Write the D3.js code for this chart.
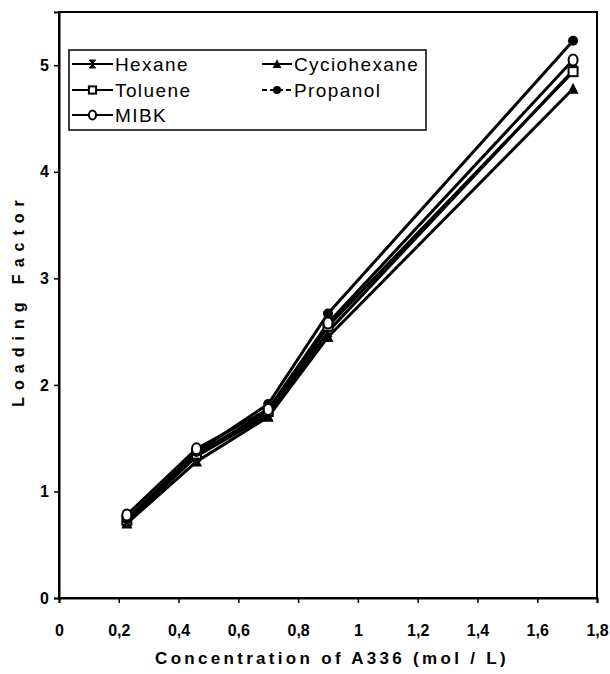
<!DOCTYPE html>
<html><head><meta charset="utf-8">
<script src="https://cdn.jsdelivr.net/npm/d3@7"></script>
<style>body{margin:0;background:#fff}svg{display:block}</style>
</head><body>
<script>
const xValues = [0.227, 0.46, 0.70, 0.90, 1.72];
const hexane = [0.72, 1.33, 1.72, 2.50, 4.95];
const cyclohexane = [0.70, 1.28, 1.70, 2.45, 4.78];
const toluene = [0.73, 1.35, 1.75, 2.55, 4.94];
const propanol = [0.74, 1.37, 1.82, 2.67, 5.23];
const mibk = [0.78, 1.40, 1.77, 2.58, 5.05];
const seriesNames = ["Hexane", "Cyciohexane", "Toluene", "Propanol", "MIBK"];
const seriesMarkers = ["bowtie", "triangle", "square", "dot", "circle"];
const xTicks = [0, 0.2, 0.4, 0.6, 0.8, 1, 1.2, 1.4, 1.6, 1.8];
const yTicks = [0, 1, 2, 3, 4, 5];

const W = 610, H = 674;
const m = {l: 59, r: 13, t: 12, b: 76};
const svg = d3.select("body").append("svg").attr("width", W).attr("height", H);
const x = d3.scaleLinear().domain([0, 1.8]).range([m.l, W - m.r]);
const y = d3.scaleLinear().domain([0, 5.5]).range([H - m.b, m.t]);

const fmt = d => String(d).replace(".", ",");
const FONT = "Liberation Sans, Arial, sans-serif";

// frame
svg.append("rect").attr("x", x(0)).attr("y", y(5.5)).attr("width", x(1.8) - x(0)).attr("height", y(0) - y(5.5))
  .attr("fill", "none").attr("stroke", "#000").attr("stroke-width", 2);

const gx = svg.append("g").attr("transform", `translate(0,${y(0)})`)
  .call(d3.axisBottom(x).tickValues(xTicks).tickSize(5).tickPadding(22).tickFormat(fmt));
const gy = svg.append("g").attr("transform", `translate(${x(0)},0)`)
  .call(d3.axisLeft(y).tickValues(yTicks).tickSize(5).tickPadding(5).tickFormat(fmt));
[gx, gy].forEach(g => {
  g.select(".domain").attr("stroke-width", 2);
  g.selectAll(".tick line").attr("stroke-width", 1.5);
  g.selectAll("text").attr("font-family", FONT).attr("font-weight", "bold")
    .attr("font-size", 16).attr("fill", "#000");
});

const data = [hexane, cyclohexane, toluene, propanol, mibk];
const line = d3.line().x((d, i) => x(xValues[i])).y(d => y(d));
data.forEach(vals => {
  svg.append("path").datum(vals).attr("d", line).attr("fill", "none")
    .attr("stroke", "#000").attr("stroke-width", 3).attr("stroke-linejoin", "round");
});

function marker(g, type, cx, cy, s) {
  s = s || 1;
  if (type === "bowtie") {
    g.append("path").attr("d", `M${cx-4*s},${cy-5*s}L${cx+4*s},${cy-5*s}L${cx},${cy}L${cx+4*s},${cy+5*s}L${cx-4*s},${cy+5*s}L${cx},${cy}Z`)
      .attr("fill", "#000").attr("stroke", "#000").attr("stroke-width", 1);
  } else if (type === "triangle") {
    g.append("path").attr("d", `M${cx},${cy-6*s}L${cx+5.5*s},${cy+5*s}L${cx-5.5*s},${cy+5*s}Z`).attr("fill", "#000");
  } else if (type === "square") {
    g.append("rect").attr("x", cx - 4.5*s).attr("y", cy - 4.5*s).attr("width", 9*s).attr("height", 9*s)
      .attr("fill", "#fff").attr("stroke", "#000").attr("stroke-width", 2);
  } else if (type === "dot") {
    g.append("circle").attr("cx", cx).attr("cy", cy).attr("r", 5*s).attr("fill", "#000");
  } else if (type === "circle") {
    g.append("ellipse").attr("cx", cx).attr("cy", cy).attr("rx", 4.5*s).attr("ry", 5.5*s)
      .attr("fill", "#fff").attr("stroke", "#000").attr("stroke-width", 2);
  }
}
data.forEach((vals, k) => {
  const g = svg.append("g");
  vals.forEach((v, i) => marker(g, seriesMarkers[k], x(xValues[i]), y(v)));
});

// legend
const lg = svg.append("g");
lg.append("rect").attr("x", 69).attr("y", 50).attr("width", 357).attr("height", 80)
  .attr("fill", "#fff").attr("stroke", "#000").attr("stroke-width", 1.5);
const legPos = [[72, 64, 41], [262, 64, 30], [72, 90, 41], [262, 90, 30], [72, 115, 41]];
seriesNames.forEach((n, k) => {
  const [lx, ly, len] = legPos[k];
  lg.append("line").attr("x1", lx).attr("x2", lx + len).attr("y1", ly).attr("y2", ly)
    .attr("stroke", "#000").attr("stroke-width", 2).attr("stroke-dasharray", seriesMarkers[k] === "dot" ? "5,3" : null);
  marker(lg, seriesMarkers[k], lx + len / 2, ly, 0.8);
  lg.append("text").attr("x", lx + len + 2).attr("y", ly).attr("dy", "0.36em")
    .attr("font-family", FONT).attr("font-size", 19).attr("letter-spacing", 1.4).attr("fill", "#000").text(n);
});

// axis titles
svg.append("text").attr("x", 332).attr("y", 664).attr("text-anchor", "middle")
  .attr("font-family", FONT).attr("font-weight", "bold").attr("font-size", 17)
  .attr("letter-spacing", 3.3).attr("fill", "#000").text("Concentration of A336 (mol / L)");
svg.append("text").attr("transform", "translate(24,300) rotate(-90)").attr("text-anchor", "middle")
  .attr("font-family", FONT).attr("font-weight", "bold").attr("font-size", 16)
  .attr("letter-spacing", 7).attr("fill", "#000").text("Loading Factor");
</script>
</body></html>
